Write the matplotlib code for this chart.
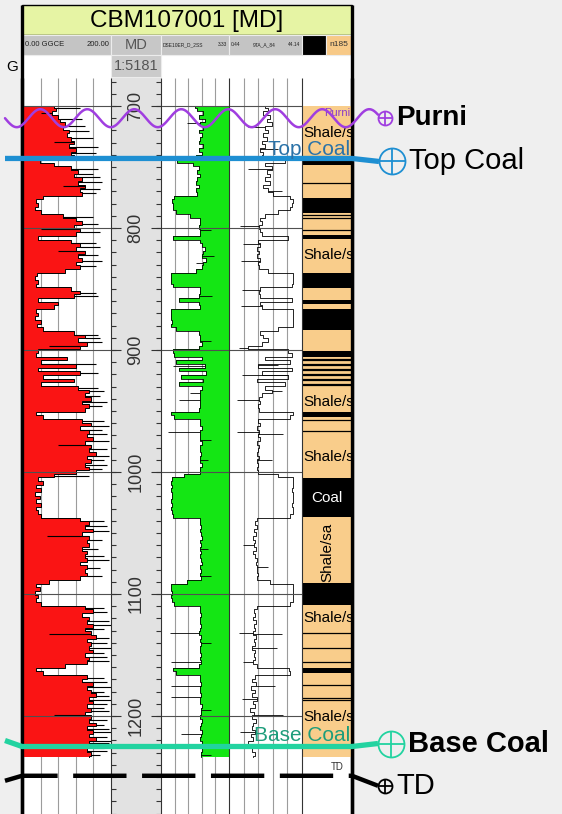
import numpy as np
import matplotlib.pyplot as plt
from matplotlib.patches import Rectangle

plt.rcParams['font.family'] = ['Liberation Sans', 'DejaVu Sans']

W, H = 562, 814

well_name = "CBM107001 [MD]"

# ---- log curves, one sample every 3 m from 700 m ----
LOG_TOP, LOG_STEP = 700, 3

gr = [
    70, 75, 65, 80, 85, 95, 90, 105, 100, 110,         # 700
    115, 105, 120, 110, 115, 38, 70, 110, 125, 115,    # 730
    135, 125, 140, 130, 135, 45, 30, 35, 28, 40,       # 760
    90, 120, 135, 115, 130, 120, 35, 110, 130, 120,    # 790
    140, 125, 135, 120, 130, 95, 32, 28, 35, 30,       # 820
    110, 130, 115, 35, 80, 70, 30, 35, 28, 40,         # 850
    32, 45, 115, 140, 125, 145, 130, 35, 30, 100,      # 880
    40, 120, 35, 130, 45, 115, 40, 125, 150, 140,      # 910
    155, 135, 150, 140, 30, 45, 135, 155, 130, 150,    # 940
    145, 160, 140, 155, 150, 165, 145, 155, 140, 150,  # 970
    120, 70, 35, 45, 30, 40, 28, 38, 30, 42,           # 1000
    30, 35, 40, 130, 150, 140, 160, 135, 150, 145,     # 1030
    150, 135, 145, 140, 145, 130, 145, 140, 145, 130,  # 1060
    60, 30, 38, 28, 35, 30, 40, 140, 160, 135,         # 1090
    150, 145, 160, 140, 155, 165, 145, 155, 150, 160,  # 1120
    140, 150, 145, 95, 30, 45, 145, 135, 160, 145,     # 1150
    155, 165, 150, 160, 145, 155, 140, 155, 150, 165,  # 1180
    145, 160, 150, 165, 150, 160, 145, 155, 150,       # 1210
]

den = [
    2.15, 2.25, 2.45, 2.3, 2.5, 2.35, 2.45, 2.3, 2.4, 2.35,
    2.3, 2.45, 2.3, 2.4, 2.2, 1.55, 2.1, 2.3, 2.25, 2.35,
    2.25, 2.2, 2.3, 2.2, 2.25, 1.45, 1.38, 1.4, 1.42, 1.5,
    2.0, 2.33, 2.35, 2.3, 2.35, 2.33, 1.42, 2.35, 2.4, 2.5,
    2.45, 2.4, 2.55, 2.45, 2.4, 2.2, 1.35, 1.33, 1.35, 1.4,
    2.33, 2.35, 2.3, 1.6, 2.3, 2.33, 1.35, 1.33, 1.35, 1.38,
    1.35, 1.5, 2.3, 2.35, 2.33, 2.4, 2.3, 1.4, 1.45, 2.4,
    1.5, 2.5, 1.6, 2.55, 1.7, 2.45, 1.6, 2.4, 2.33, 2.35,
    2.33, 2.35, 2.33, 2.3, 1.35, 1.45, 2.33, 2.35, 2.4, 2.33,
    2.35, 2.33, 2.4, 2.35, 2.33, 2.38, 2.33, 2.35, 2.4, 2.33,
    2.35, 1.8, 1.38, 1.35, 1.37, 1.35, 1.38, 1.36, 1.35, 1.37,
    1.35, 1.38, 1.4, 2.33, 2.35, 2.38, 2.33, 2.36, 2.4, 2.35,
    2.38, 2.35, 2.37, 2.33, 2.36, 2.4, 2.35, 2.38, 2.33, 2.36,
    1.9, 1.35, 1.33, 1.36, 1.34, 1.36, 1.45, 2.33, 2.35, 2.38,
    2.35, 2.33, 2.37, 2.35, 2.3, 2.36, 2.33, 2.38, 2.35, 2.33,
    2.36, 2.34, 2.38, 2.3, 1.4, 1.5, 2.35, 2.33, 2.37, 2.35,
    2.33, 2.38, 2.35, 2.33, 2.4, 2.36, 2.38, 2.35, 2.4, 2.37,
    2.35, 2.4, 2.38, 2.35, 2.42, 2.38, 2.4, 2.36, 2.38,
]

res = [
    22, 24, 21, 25, 23, 26, 22, 24, 21, 23,
    20, 22, 19, 21, 20, 34, 22, 26, 23, 25,
    22, 25, 21, 24, 27, 37, 38.5, 38, 37, 30,
    22, 19, 20, 18.5, 19, 20, 36, 18, 19, 17.5,
    18.5, 17, 19, 18, 18.5, 24, 38.5, 39, 38.5, 38,
    19, 18.5, 19, 38, 19, 20, 38.5, 39, 38.5, 39,
    38.5, 30, 19, 21, 24, 20, 12, 36, 38, 22,
    37, 18, 38, 20, 36, 17, 34, 22, 26, 20,
    18.5, 19, 18, 18.5, 38.5, 37, 18, 19, 17.5, 18.5,
    18, 19, 17.5, 18.5, 18, 17, 18.5, 17.5, 18, 17,
    18, 30, 38.5, 39, 38.5, 38, 38.5, 39, 38.5, 38,
    38.5, 39, 37, 17, 16, 17, 15.5, 16.5, 15, 16,
    15.5, 16.5, 15, 16, 17, 16.5, 17.5, 17, 18, 17,
    25, 38.5, 39, 38.5, 39, 38.5, 37, 17, 15.5, 16,
    15, 16.5, 15.5, 16, 15, 16.5, 15.5, 16, 14.5, 16,
    15.5, 16, 15, 17, 36.5, 37, 16, 14, 16.5, 13.5,
    16, 14.5, 17, 15, 16, 13, 15.5, 14, 16.5, 15,
    14, 16, 13.5, 15, 12, 16, 14.5, 16, 15,
]

# thin spikes read between the regular samples
gr_spike_md = [702, 705.5, 711, 716, 720.5, 726, 729.5, 734, 738.5, 752, 755.5,
               758, 762, 765.5, 768, 771.5, 791, 796.5, 800.5, 803.5, 812, 815.5,
               819, 822.5, 827, 831.5, 853.5, 856, 887.5, 890, 893.5, 897, 911.5,
               919, 931.5, 934, 938, 942.5, 946, 958.5, 962, 965.5, 969, 974.5,
               978, 981, 986.5, 990, 994, 997.5, 1003, 1040.5, 1044, 1048.5,
               1052.5, 1056, 1063, 1068.5, 1072.5, 1079, 1085, 1111.5, 1115,
               1122, 1125.5, 1129, 1132.5, 1136, 1140.5, 1144.5, 1148, 1152,
               1155, 1168.5, 1172, 1176.5, 1180, 1183.5, 1186.5, 1190, 1193.5,
               1196, 1199.5, 1203, 1207, 1210.5, 1213.5, 1217, 1220.5, 1222.5,
               1226, 1229, 1232]
gr_spike_val = [130, 40, 135, 140, 150, 160, 70, 170, 165, 170, 160,
                175, 180, 90, 175, 165, 160, 170, 40, 175, 165, 175,
                80, 170, 180, 165, 165, 170, 170, 175, 180, 60, 165,
                170, 170, 185, 175, 190, 180, 185, 195, 180, 190, 195,
                80, 190, 195, 185, 190, 180, 150, 185, 190, 195,
                55, 180, 170, 185, 195, 175, 180, 185, 190,
                195, 200, 185, 60, 195, 190, 200, 185, 190,
                195, 185, 190, 200, 185, 195, 200, 190, 185,
                195, 70, 190, 185, 195, 200, 190, 200, 195,
                185, 190, 175]

den_spike_md = [714, 741, 802, 823, 829, 855.5, 893, 913.5, 935, 941, 967, 974,
                990, 1063, 1085, 1132, 1140, 1156, 1175, 1184.5, 1195, 1215, 1232]
den_spike_val = [1.9, 2.0, 2.7, 2.8, 2.2, 2.75, 2.7, 1.4, 2.0, 1.6, 1.25, 2.7,
                 2.6, 2.6, 2.7, 1.3, 2.7, 1.35, 1.35, 1.35, 2.7, 1.7, 2.7]

res_spike_md = [717, 735, 752, 770, 798, 813, 827, 851, 864, 898.5, 912, 920.5,
                934, 941, 967, 968.5, 990, 1060, 1078, 1132, 1132.5, 1144, 1156,
                1175, 1186, 1199, 1213, 1223]
res_spike_val = [12, 30, 12, 32, 7, 9, 7.5, 8, 7.5, 6.5, 30, 8,
                 32, 5.5, 5, 33, 26, 9, 24, 6.5, 32, 29, 9,
                 28, 8, 33, 7, 26]

# curve scales (header values)
GR_MIN, GR_MAX = 0.0, 200.0
DEN_MIN, DEN_MAX = 1.0, 3.33
RES_MIN, RES_MAX = 0.44, 44.14

# ---- lithology column ----
coal_top = [744, 775, 806, 837, 859, 866, 901, 951, 1005, 1091, 1161]
coal_base = [748, 788, 809, 849, 862, 884, 906, 955, 1037, 1109, 1165]
coal_stringers = [763, 789.5, 791.5, 801.5, 957.5, 966.5, 1132, 1144.5, 1155.5,
                  1174.5, 1185, 1187]
coal_streaks = [908, 912, 916, 920.5, 924.5, 928.5]
shale_label_md = [722, 822, 943, 988, 1120, 1201]
coal_label_md = 1021
shale_upright_base = 1090

# ---- formation tops ----
top_names = ["Purni", "Top Coal", "Base Coal", "TD"]
top_md = [710, 743, 1225, 1249]

# ---- page layout (pixels) ----
PX_PER_M = 1.22
Y_700 = 106
TRACK_Y0 = 78
md_top = 700 - (Y_700 - TRACK_Y0) / PX_PER_M
md_bot = 700 + (H - Y_700) / PX_PER_M
PANEL_L, PANEL_R = 22, 352
GR_X = (23, 111)
MD_X = (111, 161)
DEN_X = (161, 229)
RES_X = (229, 302)
LITH_X = (302, 352)

RED = '#fa1414'
GREEN = '#14e614'
TAN = '#f9cd8b'


def px_axes(x0, y0, x1, y1, z):
    ax = fig.add_axes([x0 / W, 1 - y1 / H, (x1 - x0) / W, (y1 - y0) / H], zorder=z)
    ax.axis('off')
    return ax


def sample_md(values):
    return LOG_TOP + LOG_STEP * np.arange(len(values))


def step_path(md, val):
    edges = np.concatenate([[md[0]], (md[:-1] + md[1:]) / 2, [md[-1]]])
    return np.repeat(val, 2), np.repeat(edges, 2)[1:-1]


def spikes(ax, values, spike_md, spike_val, lw=0.6):
    # each spike starts from the nearest regular sample
    idx = np.clip(np.rint((np.asarray(spike_md) - LOG_TOP) / LOG_STEP).astype(int),
                  0, len(values) - 1)
    base = np.asarray(values)[idx]
    ax.hlines(spike_md, base, spike_val, color='black', lw=lw, zorder=2)


def log_axes(xr, lo, hi):
    ax = px_axes(xr[0], TRACK_Y0, xr[1], H, 1)
    ax.set_xlim(lo, hi)
    ax.set_ylim(md_bot, md_top)
    grid = lo + (hi - lo) * np.array([0.2, 0.4, 0.6, 0.8])
    ax.vlines(grid, md_top, md_bot, color='#9c9c9c', lw=0.8, zorder=0)
    ax.hlines(np.arange(700, 1300, 100), lo, hi, color='#505050', lw=0.8, zorder=4)
    return ax


fig = plt.figure(figsize=(W / 100, H / 100), dpi=100, facecolor='#efefef')

# ---- page background, title and headers ----
ax_bg = px_axes(0, 0, W, H, 0)
ax_bg.set_xlim(0, W)
ax_bg.set_ylim(H, 0)
ax_bg.add_patch(Rectangle((PANEL_L, 5), PANEL_R - PANEL_L, H - 5, fc='white', ec='none'))
ax_bg.add_patch(Rectangle((PANEL_L, 5), PANEL_R - PANEL_L, 30, fc='#e6f4a4', ec='black', lw=1))
ax_bg.text((PANEL_L + PANEL_R) / 2, 21, well_name, ha='center', va='center', fontsize=17.5)

header_cells = [(GR_X, '#c4c4c4'), (MD_X, '#c7c7c7'), (DEN_X, '#c4c4c4'),
                (RES_X, '#c4c4c4'), ((302, 326), 'black'), ((326, 352), '#f7c987')]
for (x0, x1), fc in header_cells:
    ax_bg.add_patch(Rectangle((x0, 35), x1 - x0, 20, fc=fc, ec='#ececec', lw=0.8))
ax_bg.add_patch(Rectangle((MD_X[0], 55), MD_X[1] - MD_X[0], H - 55, fc='#e2e2e2', ec='none'))
ax_bg.add_patch(Rectangle((MD_X[0], 55), MD_X[1] - MD_X[0], 22, fc='#cbcbcb', ec='#ececec', lw=0.8))

ax_bg.text(GR_X[0] + 2, 45, "0.00 GGCE", fontsize=5.5, va='center', color='#222')
ax_bg.text(GR_X[1] - 2, 45, "200.00", fontsize=5.5, va='center', ha='right', color='#222')
ax_bg.text(sum(MD_X) / 2, 45, "MD", fontsize=10.5, ha='center', va='center', color='#555')
ax_bg.text(DEN_X[0] + 2, 45, "DSE10ER_D_2SS", fontsize=3.5, va='center', color='#222')
ax_bg.text(DEN_X[1] - 2, 45, "3.33", fontsize=3.5, va='center', ha='right', color='#222')
ax_bg.text(RES_X[0] + 2, 45, "0.44", fontsize=3.5, va='center', color='#222')
ax_bg.text(RES_X[0] + 24, 45, "9TA_A_84", fontsize=3.5, va='center', color='#222')
ax_bg.text(RES_X[1] - 2, 45, "44.14", fontsize=3.5, va='center', ha='right', color='#222')
ax_bg.text(339, 45, "n185", fontsize=6, ha='center', va='center', color='#333')
ax_bg.text(sum(MD_X) / 2, 66, "1:5181", fontsize=10.5, ha='center', va='center', color='#555')
ax_bg.text(12, 67, "G", fontsize=11, ha='center', va='center')
ax_bg.vlines([PANEL_L, PANEL_R], 5, H, color='black', lw=2.4)

# ---- GR track: red fill with a black trace ----
ax_gr = log_axes(GR_X, GR_MIN, GR_MAX)
x, y = step_path(sample_md(gr), np.asarray(gr))
ax_gr.fill_betweenx(y, GR_MIN, x, color=RED, lw=0, zorder=1)
ax_gr.plot(x, y, color='black', lw=0.7, zorder=2)
spikes(ax_gr, gr, gr_spike_md, gr_spike_val, lw=0.8)

# ---- depth track ----
ax_md = px_axes(MD_X[0], TRACK_Y0, MD_X[1], H, 1)
ax_md.set_xlim(0, 1)
ax_md.set_ylim(md_bot, md_top)
minor = np.arange(680, 1290, 10)
ax_md.hlines(minor, 0, 0.1, color='#333', lw=0.8)
ax_md.hlines(minor, 0.9, 1, color='#333', lw=0.8)
major = np.arange(700, 1400, 100)
ax_md.hlines(major, 0, 0.2, color='#333', lw=0.8)
ax_md.hlines(major, 0.8, 1, color='#333', lw=0.8)
for d in major:
    ax_md.text(0.5, d, str(d), rotation=90, ha='center', va='center',
               fontsize=13, color='#333', clip_on=True)

# ---- density track: green fill to the right edge ----
ax_den = log_axes(DEN_X, DEN_MIN, DEN_MAX)
x, y = step_path(sample_md(den), np.asarray(den))
ax_den.fill_betweenx(y, x, DEN_MAX, color=GREEN, lw=0, zorder=1)
ax_den.plot(x, y, color='black', lw=0.6, zorder=2)
spikes(ax_den, den, den_spike_md, den_spike_val)

# ---- resistivity track ----
ax_res = log_axes(RES_X, RES_MIN, RES_MAX)
x, y = step_path(sample_md(res), np.asarray(res))
ax_res.plot(x, y, color='black', lw=0.6, zorder=2)
spikes(ax_res, res, res_spike_md, res_spike_val)

# ---- lithology track ----
ax_lith = px_axes(LITH_X[0], TRACK_Y0, LITH_X[1], H, 1)
ax_lith.set_xlim(0, 1)
ax_lith.set_ylim(md_bot, md_top)
log_base = sample_md(gr)[-1]
ax_lith.axhspan(LOG_TOP, log_base, color=TAN, lw=0)
for t, b in zip(coal_top, coal_base):
    ax_lith.axhspan(t, b, color='black', lw=0)
ax_lith.hlines(coal_stringers, 0, 1, color='black', lw=0.9)
ax_lith.hlines(coal_streaks, 0, 1, color='black', lw=1.6)
for d in shale_label_md:
    ax_lith.text(0.02, d, "Shale/sandstone", fontsize=11, va='center', clip_on=True)
ax_lith.text(0.5, coal_label_md, "Coal", fontsize=11, color='white', ha='center', va='center')
ax_lith.text(0.5, shale_upright_base, "Shale/sa", rotation=90,
             fontsize=11, ha='center', va='bottom')
ax_lith.text(0.96, top_md[0] - 4, top_names[0], fontsize=8, color='#8a3cc8',
             ha='right', va='center', clip_on=True)
ax_lith.text(0.7, top_md[3] - 7, top_names[3], fontsize=7, color='#333',
             ha='center', va='center')

# ---- overlay: track borders and formation tops ----
ax_mk = px_axes(0, TRACK_Y0, W, H, 5)
ax_mk.set_xlim(0, W)
ax_mk.set_ylim(md_bot, md_top)
ax_mk.vlines([MD_X[0], DEN_X[0], RES_X[0], LITH_X[0]], md_top, md_bot, color='#333', lw=0.8)
ax_mk.vlines([PANEL_L, PANEL_R], md_top, md_bot, color='black', lw=2.4)

m = 1 / PX_PER_M  # pixels to metres
top_style = {
    "Purni": dict(color='#a03ee0', lw=1.8, ls='-', r=7, cx=385, cdy=0, ldy=0,
                  weight='bold', size=20),
    "Top Coal": dict(color='#1e8fd2', lw=3.8, ls='-', r=13, cx=392, cdy=3, ldy=0,
                     weight='normal', size=21),
    "Base Coal": dict(color='#22d3a0', lw=3.8, ls='-', r=13, cx=391, cdy=-3, ldy=-6,
                      weight='bold', size=21),
    "TD": dict(color='black', lw=3.2, ls=(0, (12, 3.5)), r=7, cx=385, cdy=10, ldy=5,
               weight='normal', size=21),
}
panel_label = {"Top Coal": ('#2a72a8', -9), "Base Coal": ('#1d9d7b', -11)}

for name, d in zip(top_names, top_md):
    s = top_style[name]
    cy = d + s['cdy'] * m
    if name == "Purni":
        # unconformity drawn as a wavy line
        xs = np.linspace(5, s['cx'] - s['r'], 800)
        ys = d + 9 * m * np.sin(2 * np.pi * (xs - 5) / 47)
        ax_mk.plot(xs, ys, color=s['color'], lw=s['lw'], solid_capstyle='round')
    else:
        ax_mk.plot([5, PANEL_L, PANEL_R, s['cx'] - s['r']],
                   [d + s['ldy'] * m, d, d, cy],
                   color=s['color'], lw=s['lw'], ls=s['ls'], solid_capstyle='butt')
    ax_mk.plot(s['cx'], cy, marker='o', ms=2 * s['r'] * 0.72, mfc='none',
               mec=s['color'], mew=1.3)
    ax_mk.plot(s['cx'], cy, marker='+', ms=2 * s['r'] * 0.72, mec=s['color'], mew=1.3)
    ax_mk.text(s['cx'] + s['r'] + 4, cy, name, fontsize=s['size'], weight=s['weight'],
               va='center', ha='left')
    if name in panel_label:
        c, off = panel_label[name]
        ax_mk.text(PANEL_R - 2, d + off * m, name, fontsize=15, color=c,
                   ha='right', va='center')

fig.savefig('out.png', dpi=100, facecolor=fig.get_facecolor())
